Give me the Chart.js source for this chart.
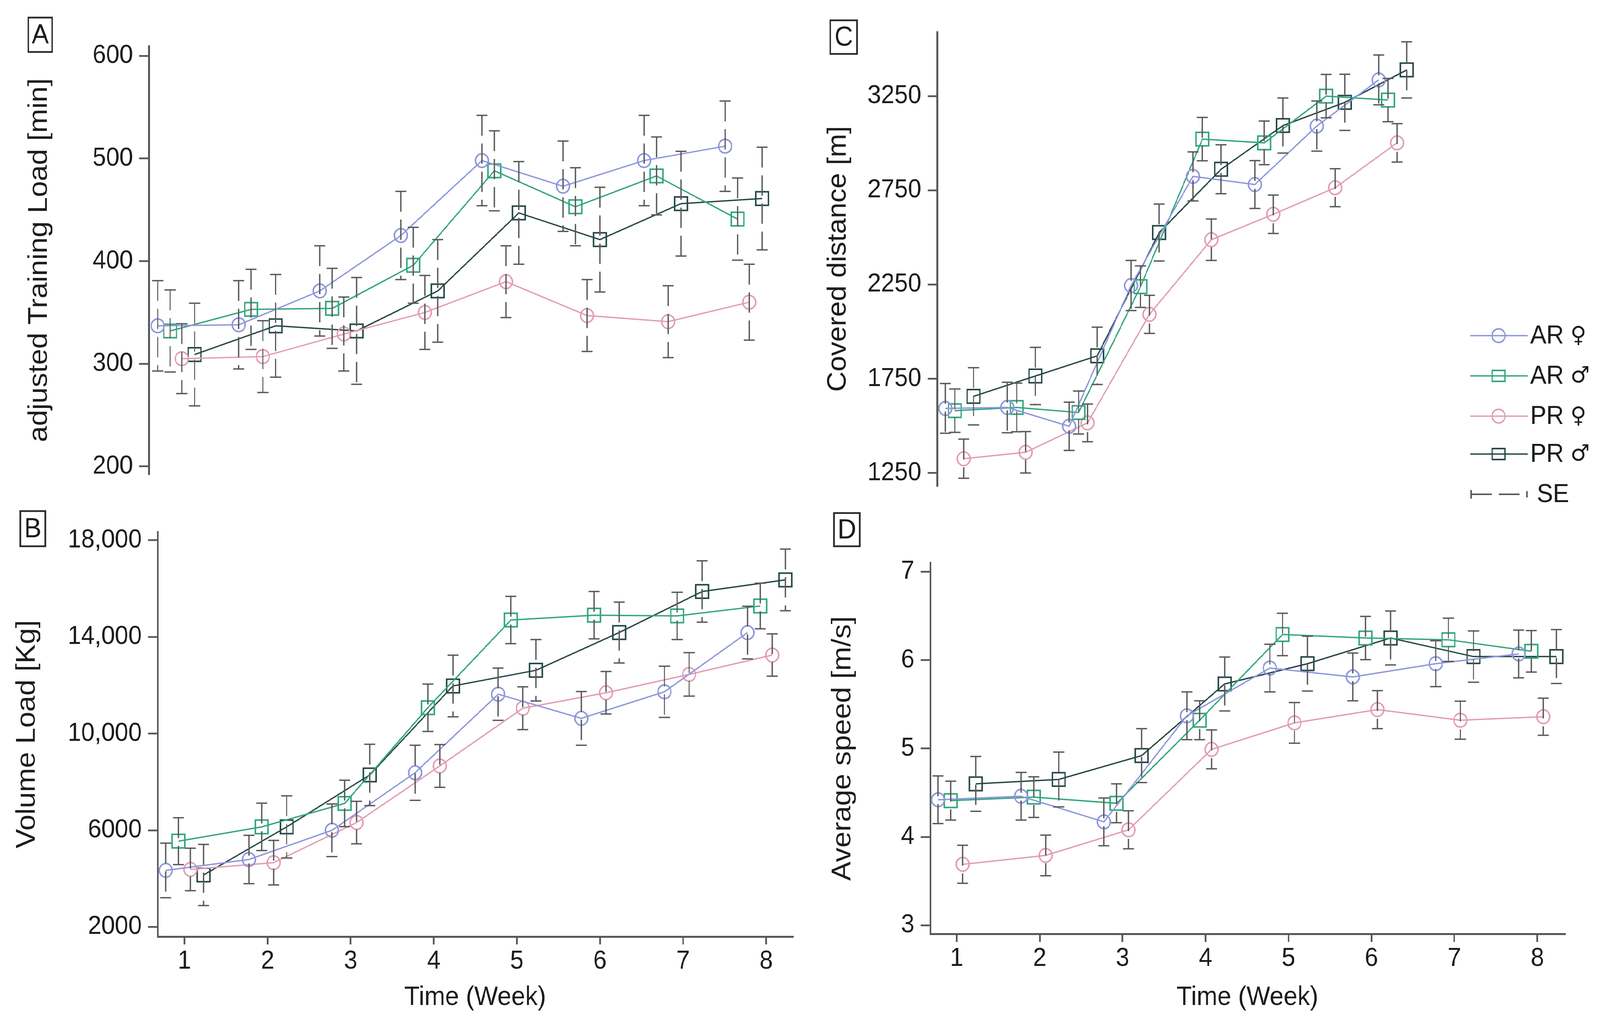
<!DOCTYPE html>
<html>
<head>
<meta charset="utf-8">
<script src="https://cdn.jsdelivr.net/npm/chart.js@4.4.0/dist/chart.umd.min.js"></script>
<style>
html,body{margin:0;padding:0;background:#ffffff;overflow:hidden;}
#stage{position:absolute;left:0;top:0;width:4355px;height:2636px;transform-origin:0 0;background:#ffffff;}
canvas{position:absolute;display:block;}
</style>
</head>
<body>
<div id="stage">
<canvas id="cA"></canvas>
<canvas id="cB"></canvas>
<canvas id="cC"></canvas>
<canvas id="cD"></canvas>
</div>
<script>
// ---------------- DATA ----------------
const WEEKS = [1, 2, 3, 4, 5, 6, 7, 8];
const X_TICKS = [1, 2, 3, 4, 5, 6, 7, 8];
const SERIES_GROUPS = ['AR', 'AR', 'PR', 'PR'];
const SERIES_SEX = ['♀', '♂', '♀', '♂'];
const SERIES_NAMES = SERIES_GROUPS.map((g, i) => g + ' ' + SERIES_SEX[i]);
const SE_LABEL = 'SE';
const X_TITLE = 'Time (Week)';

// Panel A: adjusted Training Load [min]
const A_AR_F = [337, 338, 371, 425, 498, 473, 498, 512];
const A_AR_M = [332, 353, 354, 396, 488, 453, 483, 441];
const A_PR_F = [305, 307, 329, 350, 380, 347, 341, 360];
const A_PR_M = [309, 337, 332, 371, 447, 421, 456, 461];
const A_SE_AR_F = [44, 43, 44, 43, 44, 44, 44, 44];
const A_SE_AR_M = [40, 39, 39, 37, 39, 38, 38, 40];
const A_SE_PR_F = [34, 35, 36, 36, 35, 35, 35, 37];
const A_SE_PR_M = [50, 50, 52, 50, 50, 51, 51, 50];
const A_Y_TICKS = [200, 300, 400, 500, 600];
const A_Y_LABELS = ['200', '300', '400', '500', '600'];
const A_Y_TITLE = 'adjusted Training Load [min]';

// Panel B: Volume Load [Kg]
const B_AR_F = [4340, 4790, 6000, 8380, 11630, 10630, 11730, 14180];
const B_AR_M = [5550, 6140, 7110, 11070, 14700, 14900, 14870, 15280];
const B_PR_F = [4380, 4660, 6320, 8660, 11050, 11690, 12450, 13250];
const B_PR_M = [4150, 6140, 8290, 11970, 12620, 14180, 15880, 16360];
const B_SE_AR_F = [1130, 1000, 1090, 1140, 1080, 1110, 1060, 1090];
const B_SE_AR_M = [970, 980, 960, 980, 980, 980, 980, 945];
const B_SE_PR_F = [880, 920, 880, 885, 885, 880, 900, 875];
const B_SE_PR_M = [1265, 1285, 1270, 1275, 1270, 1260, 1270, 1275];
const B_Y_TICKS = [2000, 6000, 10000, 14000, 18000];
const B_Y_LABELS = ['2000', '6000', '10,000', '14,000', '18,000'];
const B_Y_TITLE = 'Volume Load [Kg]';

// Panel C: Covered distance [m]
const C_AR_F = [1593, 1598, 1498, 2245, 2824, 2781, 3091, 3336];
const C_AR_M = [1581, 1598, 1571, 2239, 3022, 3002, 3250, 3229];
const C_PR_F = [1326, 1360, 1516, 2092, 2488, 2623, 2764, 3002];
const C_PR_M = [1657, 1765, 1872, 2526, 2862, 3094, 3217, 3389];
const C_SE_AR_F = [132, 134, 128, 133, 130, 127, 133, 132];
const C_SE_AR_M = [115, 129, 114, 110, 115, 116, 115, 115];
const C_SE_PR_F = [104, 110, 100, 101, 110, 102, 101, 102];
const C_SE_PR_M = [152, 152, 152, 151, 130, 146, 149, 149];
const C_Y_TICKS = [1250, 1750, 2250, 2750, 3250];
const C_Y_LABELS = ['1250', '1750', '2250', '2750', '3250'];
const C_Y_TITLE = 'Covered distance [m]';

// Panel D: Average speed [m/s]
const D_AR_F = [4.42, 4.46, 4.17, 5.37, 5.91, 5.81, 5.96, 6.07];
const D_AR_M = [4.41, 4.45, 4.38, 5.32, 6.29, 6.25, 6.23, 6.10];
const D_PR_F = [3.69, 3.79, 4.08, 4.99, 5.29, 5.44, 5.32, 5.36];
const D_PR_M = [4.60, 4.65, 4.92, 5.73, 5.96, 6.25, 6.04, 6.04];
const D_SE_AR_F = [0.27, 0.27, 0.27, 0.27, 0.27, 0.27, 0.26, 0.27];
const D_SE_AR_M = [0.22, 0.23, 0.22, 0.22, 0.24, 0.245, 0.245, 0.235];
const D_SE_PR_F = [0.215, 0.23, 0.215, 0.22, 0.23, 0.215, 0.215, 0.21];
const D_SE_PR_M = [0.31, 0.31, 0.305, 0.305, 0.31, 0.305, 0.29, 0.305];
const D_Y_TICKS = [3, 4, 5, 6, 7];
const D_Y_LABELS = ['3', '4', '5', '6', '7'];
const D_Y_TITLE = 'Average speed [m/s]';

// ---------------- STYLE ----------------
const COLORS = ['#8e96dc', '#32a67c', '#e39db2', '#264846'];
const STYLES = ['circle', 'rect', 'circle', 'rect'];
const DODGE = [-0.225, -0.072, 0.072, 0.23];   // horizontal dodge in week units
const AXIS = '#575757';
const TEXT = '#1c1c1c';
const ERR = '#5a5a5a';
const FAMILY = "'Liberation Sans', Arial, 'DejaVu Sans', sans-serif";
const SYMBOL_FAMILY = "'DejaVu Sans', sans-serif";
const TICK_FONT = {family: FAMILY, size: 66};

// fit the 4355x2636 design stage exactly onto the actual viewport
(function fitStage() {
  const vw = window.innerWidth || 4355, vh = window.innerHeight || 2636;
  document.getElementById('stage').style.transform = 'scale(' + (vw / 4355) + ',' + (vh / 2636) + ')';
})();

function makeErrPlugin(means, ses) {
  return {
    id: 'errbars',
    afterDatasetsDraw(chart) {
      const {ctx, scales} = chart;
      const x = scales.x, y = scales.y;
      ctx.save();
      ctx.strokeStyle = ERR;
      ctx.lineWidth = 3.5;
      ctx.lineCap = 'butt';
      means.forEach((m, i) => {
        m.forEach((v, j) => {
          const s = ses[i][j];
          const px = x.getPixelForValue(WEEKS[j] + DODGE[i]);
          const top = y.getPixelForValue(v + s);
          const bot = y.getPixelForValue(v - s);
          ctx.setLineDash([52, 20]);
          ctx.beginPath(); ctx.moveTo(px, top); ctx.lineTo(px, bot); ctx.stroke();
          ctx.setLineDash([]);
          ctx.beginPath();
          ctx.moveTo(px - 15, top); ctx.lineTo(px + 15, top);
          ctx.moveTo(px - 15, bot); ctx.lineTo(px + 15, bot);
          ctx.stroke();
        });
      });
      ctx.restore();
    }
  };
}

function makeLetterPlugin(geo, letter, box) {
  return {
    id: 'letter',
    afterDraw(chart) {
      const ctx = chart.ctx;
      ctx.save();
      const x0 = box[0] - geo.left, y0 = box[1] - geo.top;
      const w = box[2] - box[0], h = box[3] - box[1];
      ctx.strokeStyle = '#2a2a2a';
      ctx.lineWidth = 4.5;
      ctx.strokeRect(x0, y0, w, h);
      ctx.fillStyle = TEXT;
      ctx.font = '70px ' + FAMILY;
      ctx.textAlign = 'center';
      ctx.textBaseline = 'middle';
      ctx.fillText(letter, x0 + w / 2, y0 + h / 2 + 3);
      ctx.restore();
    }
  };
}

function makeLegendPlugin(geo) {
  return {
    id: 'legendCustom',
    afterDraw(chart) {
      const ctx = chart.ctx;
      const ox = geo.left, oy = geo.top;
      const rows = [859, 962, 1065, 1162];
      const lx1 = 4002 - ox, lx2 = 4158 - ox, mx = 4079 - ox, tx = 4165 - ox;
      ctx.save();
      SERIES_NAMES.forEach((name, i) => {
        const yy = rows[i] - oy;
        ctx.strokeStyle = COLORS[i];
        ctx.lineWidth = 3.5;
        ctx.beginPath(); ctx.moveTo(lx1, yy); ctx.lineTo(lx2, yy); ctx.stroke();
        ctx.lineWidth = 4;
        ctx.beginPath();
        if (STYLES[i] === 'circle') ctx.arc(mx, yy, 17.5, 0, Math.PI * 2);
        else ctx.rect(mx - 17.5, yy - 14, 35, 28);
        ctx.stroke();
        ctx.fillStyle = TEXT;
        ctx.textAlign = 'left';
        ctx.textBaseline = 'middle';
        ctx.font = '66px ' + FAMILY;
        const g = SERIES_GROUPS[i] + ' ';
        ctx.fillText(g, tx, yy + 2);
        const gw = ctx.measureText(g).width;
        ctx.font = '58px ' + SYMBOL_FAMILY;
        ctx.fillText(SERIES_SEX[i], tx + gw, yy + 2);
      });
      // SE symbol
      const sy = 1265 - oy;
      ctx.strokeStyle = ERR;
      ctx.lineWidth = 4;
      ctx.beginPath();
      ctx.moveTo(4004 - ox, sy - 11); ctx.lineTo(4004 - ox, sy + 11);
      ctx.moveTo(4002 - ox, sy); ctx.lineTo(4060 - ox, sy);
      ctx.moveTo(4080 - ox, sy); ctx.lineTo(4136 - ox, sy);
      ctx.moveTo(4156 - ox, sy - 8); ctx.lineTo(4156 - ox, sy + 8);
      ctx.stroke();
      ctx.fillStyle = TEXT;
      ctx.font = '66px ' + FAMILY;
      ctx.textBaseline = 'middle';
      ctx.fillText(SE_LABEL, 4183 - ox, sy + 2);
      ctx.restore();
    }
  };
}

function buildPanel(id, geo, means, ses, yTicks, yLabels, yTitle, showX, letter, box, extraPlugins) {
  const cv = document.getElementById(id);
  cv.width = geo.width; cv.height = geo.height;
  cv.style.left = geo.left + 'px'; cv.style.top = geo.top + 'px';
  cv.style.width = geo.width + 'px'; cv.style.height = geo.height + 'px';

  const datasets = means.map((arr, i) => ({
    label: SERIES_NAMES[i],
    data: arr.map((v, j) => ({x: WEEKS[j] + DODGE[i], y: v})),
    borderColor: COLORS[i],
    backgroundColor: 'rgba(0,0,0,0)',
    borderWidth: 3.5,
    pointStyle: STYLES[i],
    pointRadius: STYLES[i] === 'rect' ? 24.5 : 17.5,
    pointBorderWidth: 4,
    pointBorderColor: COLORS[i],
    pointBackgroundColor: 'rgba(255,255,255,0)',
    tension: 0,
    fill: false,
    clip: false
  }));

  const plugins = [makeErrPlugin(means, ses), makeLetterPlugin(geo, letter, box)].concat(extraPlugins || []);

  return new Chart(cv, {
    type: 'line',
    data: {datasets},
    plugins,
    options: {
      responsive: false,
      animation: false,
      devicePixelRatio: 1,
      events: [],
      layout: {padding: geo.pad},
      plugins: {legend: {display: false}, tooltip: {enabled: false}},
      scales: {
        x: {
          type: 'linear',
          min: geo.xMin, max: geo.xMax,
          display: showX,
          afterBuildTicks: s => { s.ticks = X_TICKS.map(v => ({value: v})); },
          afterFit: s => { s.height = geo.xH; },
          ticks: {font: TICK_FONT, color: TEXT, padding: 4, maxRotation: 0, autoSkip: false,
                  callback: v => String(v)},
          grid: {display: true, drawOnChartArea: false, drawTicks: true, tickLength: 20, color: AXIS, lineWidth: 4.5},
          border: {display: true, color: AXIS, width: 5},
          title: {display: true, text: X_TITLE, color: TEXT, padding: 0,
                  font: {family: FAMILY, size: 68}}
        },
        y: {
          type: 'linear',
          min: geo.yMin, max: geo.yMax,
          afterBuildTicks: s => { s.ticks = yTicks.map(v => ({value: v})); },
          afterFit: s => { s.width = geo.yW; },
          ticks: {font: TICK_FONT, color: TEXT, padding: 17, autoSkip: false,
                  callback: v => { const k = yTicks.indexOf(v); return k >= 0 ? yLabels[k] : ''; }},
          grid: {display: true, drawOnChartArea: false, drawTicks: true, tickLength: 26, color: AXIS, lineWidth: 4.5},
          border: {display: true, color: AXIS, width: 5},
          title: {display: true, text: yTitle, color: TEXT, padding: 0,
                  font: {family: FAMILY, size: geo.yTitleSize}}
        }
      }
    }
  });
}

const GEO_A = {left: 63, top: 40, width: 2074, height: 1230,
  pad: {top: 78, right: 40, bottom: 40, left: 0}, yW: 342, xH: 0,
  xMin: 0.665, xMax: 8.334, yMin: 192.5, yMax: 609.5, yTitleSize: 74};
const GEO_B = {left: 30, top: 1300, width: 2168, height: 1294,
  pad: {top: 61, right: 40, bottom: 0, left: 0}, yW: 399, xH: 197,
  xMin: 0.677, xMax: 8.32, yMin: 1600, yMax: 18350, yTitleSize: 74};
const GEO_C = {left: 2239, top: 20, width: 2116, height: 1280,
  pad: {top: 62, right: 514, bottom: 13, left: 0}, yW: 312, xH: 0,
  xMin: 0.644, xMax: 8.3, yMin: 1182, yMax: 3590, yTitleSize: 72};
const GEO_D = {left: 2250, top: 1300, width: 2049, height: 1294,
  pad: {top: 140.6, right: 40, bottom: 0, left: 0}, yW: 282, xH: 203.4,
  xMin: 0.681, xMax: 8.33, yMin: 2.9, yMax: 7.1, yTitleSize: 74};

buildPanel('cA', GEO_A, [A_AR_F, A_AR_M, A_PR_F, A_PR_M], [A_SE_AR_F, A_SE_AR_M, A_SE_PR_F, A_SE_PR_M],
  A_Y_TICKS, A_Y_LABELS, A_Y_TITLE, false, 'A', [77, 45, 142, 133]);
buildPanel('cB', GEO_B, [B_AR_F, B_AR_M, B_PR_F, B_PR_M], [B_SE_AR_F, B_SE_AR_M, B_SE_PR_F, B_SE_PR_M],
  B_Y_TICKS, B_Y_LABELS, B_Y_TITLE, true, 'B', [55, 1308, 123, 1398]);
buildPanel('cC', GEO_C, [C_AR_F, C_AR_M, C_PR_F, C_PR_M], [C_SE_AR_F, C_SE_AR_M, C_SE_PR_F, C_SE_PR_M],
  C_Y_TICKS, C_Y_LABELS, C_Y_TITLE, false, 'C', [2260, 52, 2333, 138], [makeLegendPlugin(GEO_C)]);
buildPanel('cD', GEO_D, [D_AR_F, D_AR_M, D_PR_F, D_PR_M], [D_SE_AR_F, D_SE_AR_M, D_SE_PR_F, D_SE_PR_M],
  D_Y_TICKS, D_Y_LABELS, D_Y_TITLE, true, 'D', [2270, 1313, 2340, 1398]);
</script>
</body>
</html>
